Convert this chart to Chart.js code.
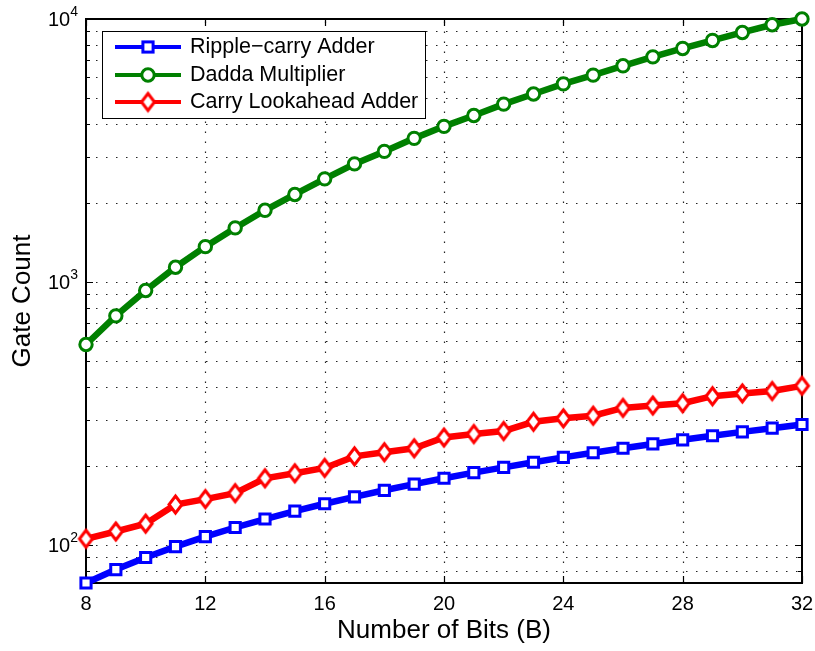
<!DOCTYPE html>
<html>
<head>
<meta charset="utf-8">
<title>Gate Count vs Number of Bits</title>
<script src="https://cdn.jsdelivr.net/npm/chart.js@4.4.1/dist/chart.umd.min.js"></script>
<style>
  html, body { margin: 0; padding: 0; background: #fff; }
  #chart { display: block; }
</style>
</head>
<body>
<canvas id="chart" width="815" height="651"></canvas>
<script>
// Word length in bits
const bits = [8, 9, 10, 11, 12, 13, 14, 15, 16, 17, 18, 19, 20, 21, 22, 23, 24, 25, 26, 27, 28, 29, 30, 31, 32];

// Gate counts per design
const rippleCarry = [72, 81, 90, 99, 108, 117, 126, 135, 144, 153, 162, 171, 180, 189, 198, 207, 216, 225, 234, 243, 252, 261, 270, 279, 288];
const dadda = [580, 745, 930, 1140, 1365, 1608, 1876, 2155, 2470, 2815, 3140, 3520, 3910, 4300, 4750, 5190, 5670, 6120, 6640, 7180, 7730, 8290, 8890, 9510, 10000];
const carryLookahead = [106, 113, 121, 143, 150, 158, 180, 188, 197, 218, 226, 234, 257, 265, 272, 295, 304, 311, 333, 340, 347, 369, 378, 386, 404];

const seriesNames = ['Ripple\u2212carry Adder', 'Dadda Multiplier', 'Carry Lookahead Adder'];
const seriesColors = ['#0000ff', '#008000', '#ff0000'];

// Log axis: dotted grid at every integer multiple, labels at the decades
const yGridValues = [80, 90, 100, 200, 300, 400, 500, 600, 700, 800, 900, 1000, 2000, 3000, 4000, 5000, 6000, 7000, 8000, 9000, 10000];
const yDecades = [100, 1000, 10000];
const yMin = 72, yMax = 10000;

const FONT = "'Liberation Sans', Arial, Helvetica, sans-serif";
Chart.defaults.font.family = FONT;
Chart.defaults.color = '#000';

function makeDiamond(w, h, color, lw) {
  const c = document.createElement('canvas');
  c.width = w + lw * 2 + 2;
  c.height = h + lw * 2 + 2;
  const g = c.getContext('2d');
  const cx = c.width / 2, cy = c.height / 2;
  g.beginPath();
  g.moveTo(cx, cy - h / 2);
  g.lineTo(cx + w / 2, cy);
  g.lineTo(cx, cy + h / 2);
  g.lineTo(cx - w / 2, cy);
  g.closePath();
  g.fillStyle = '#fff';
  g.fill();
  g.lineWidth = lw;
  g.strokeStyle = color;
  g.stroke();
  return c;
}

const diamond = makeDiamond(13, 17, seriesColors[2], 3);

function toPoints(values) {
  return bits.map((b, i) => ({ x: b, y: values[i] }));
}

function lineSet(label, values, color, style, radius) {
  return {
    label: label,
    data: toPoints(values),
    borderColor: color,
    backgroundColor: '#fff',
    borderWidth: 6.5,
    pointStyle: style,
    pointRadius: radius,
    pointBorderWidth: 3,
    pointBackgroundColor: '#fff',
    pointBorderColor: color,
    tension: 0,
    clip: false
  };
}

// Dotted grid, box and inward tick marks (MATLAB style)
const axesPlugin = {
  id: 'matlabAxes',
  beforeDatasetsDraw(chart) {
    const ctx = chart.ctx;
    const xs = chart.scales.x, ys = chart.scales.y;
    const a = chart.chartArea;
    ctx.save();
    ctx.strokeStyle = '#222';
    ctx.lineWidth = 1.2;
    ctx.setLineDash([1.5, 8.5]);
    xs.ticks.forEach(t => {
      const px = Math.round(xs.getPixelForValue(t.value)) + 0.5;
      if (px <= a.left + 2 || px >= a.right - 2) return;
      ctx.beginPath();
      ctx.moveTo(px, a.bottom);
      ctx.lineTo(px, a.top);
      ctx.stroke();
    });
    yGridValues.forEach(v => {
      if (v <= yMin || v >= yMax) return;
      const py = Math.round(ys.getPixelForValue(v)) + 0.5;
      ctx.beginPath();
      ctx.moveTo(a.left, py);
      ctx.lineTo(a.right, py);
      ctx.stroke();
    });
    ctx.setLineDash([]);

    // box
    ctx.strokeStyle = '#000';
    ctx.lineWidth = 2;
    ctx.strokeRect(a.left, a.top, a.right - a.left, a.bottom - a.top);

    // x ticks, bottom and top
    ctx.lineWidth = 1.2;
    xs.ticks.forEach(t => {
      const px = Math.round(xs.getPixelForValue(t.value)) + 0.5;
      ctx.beginPath();
      ctx.moveTo(px, a.bottom);
      ctx.lineTo(px, a.bottom - 7);
      ctx.moveTo(px, a.top);
      ctx.lineTo(px, a.top + 7);
      ctx.stroke();
    });
    // y ticks, left and right
    yGridValues.forEach(v => {
      if (v < yMin || v > yMax) return;
      const py = Math.round(ys.getPixelForValue(v)) + 0.5;
      const len = yDecades.includes(v) ? 7 : 4;
      ctx.beginPath();
      ctx.moveTo(a.left, py);
      ctx.lineTo(a.left + len, py);
      ctx.moveTo(a.right, py);
      ctx.lineTo(a.right - len, py);
      ctx.stroke();
    });

    // decade labels as 10^n
    ctx.fillStyle = '#000';
    yDecades.forEach(v => {
      const py = ys.getPixelForValue(v);
      const exp = String(Math.round(Math.log10(v)));
      ctx.font = '14px ' + FONT;
      const ew = ctx.measureText(exp).width;
      const right = a.left - 8;
      ctx.textBaseline = 'middle';
      ctx.textAlign = 'left';
      ctx.fillText(exp, right - ew, py - 7);
      ctx.font = '20px ' + FONT;
      ctx.textAlign = 'right';
      ctx.fillText('10', right - ew, py + 1.5);
    });
    ctx.restore();
  },
  afterDraw(chart) {
    // legend box
    const ctx = chart.ctx;
    const box = { left: 102, top: 31, right: 425, bottom: 118 };
    const rows = [47, 75, 102];
    ctx.save();
    ctx.fillStyle = '#fff';
    ctx.fillRect(box.left, box.top, box.right - box.left, box.bottom - box.top);
    ctx.strokeStyle = '#000';
    ctx.lineWidth = 1;
    ctx.strokeRect(box.left + 0.5, box.top + 0.5, box.right - box.left, box.bottom - box.top);
    chart.data.datasets.forEach((ds, i) => {
      const y = rows[i];
      ctx.strokeStyle = ds.borderColor;
      ctx.lineWidth = 4;
      ctx.beginPath();
      ctx.moveTo(115, y);
      ctx.lineTo(181, y);
      ctx.stroke();
      const cx = 148;
      ctx.lineWidth = 3;
      ctx.fillStyle = '#fff';
      if (ds.pointStyle === 'rect') {
        const s = ds.pointRadius * Math.SQRT1_2;
        ctx.fillRect(cx - s, y - s, 2 * s, 2 * s);
        ctx.strokeRect(cx - s, y - s, 2 * s, 2 * s);
      } else if (ds.pointStyle === 'circle') {
        ctx.beginPath();
        ctx.arc(cx, y, ds.pointRadius, 0, Math.PI * 2);
        ctx.fill();
        ctx.stroke();
      } else {
        const img = ds.pointStyle;
        ctx.drawImage(img, cx - img.width / 2, y - img.height / 2);
      }
      ctx.fillStyle = '#000';
      ctx.font = '21.5px ' + FONT;
      ctx.textAlign = 'left';
      ctx.textBaseline = 'middle';
      ctx.fillText(ds.label, 190, y);
    });
    ctx.restore();
  }
};

new Chart(document.getElementById('chart'), {
  type: 'line',
  data: {
    datasets: [
      lineSet(seriesNames[0], rippleCarry, seriesColors[0], 'rect', 7.2),
      lineSet(seriesNames[1], dadda, seriesColors[1], 'circle', 6.2),
      lineSet(seriesNames[2], carryLookahead, seriesColors[2], diamond, 8)
    ]
  },
  options: {
    responsive: false,
    animation: false,
    layout: { padding: { top: 19, right: 13, bottom: 0, left: 0 } },
    plugins: {
      legend: { display: false },
      tooltip: { enabled: false }
    },
    scales: {
      x: {
        type: 'linear',
        min: 8,
        max: 32,
        grid: { display: false, drawTicks: false },
        border: { display: false },
        ticks: {
          stepSize: 4,
          padding: 9,
          font: { size: 20 },
          color: '#000'
        },
        title: {
          display: true,
          text: 'Number of Bits (B)',
          font: { size: 26 },
          color: '#000',
          padding: { top: 0, bottom: 5 }
        },
        afterFit: s => {
          s.height = 68;
          s.paddingLeft = 0;
          s.paddingRight = 0;
        }
      },
      y: {
        type: 'logarithmic',
        min: yMin,
        max: yMax,
        grid: { display: false, drawTicks: false },
        border: { display: false },
        ticks: { display: false },
        title: {
          display: true,
          text: 'Gate Count',
          font: { size: 26 },
          color: '#000',
          padding: { top: 7, bottom: 0 }
        },
        afterFit: s => { s.width = 86; }
      }
    }
  },
  plugins: [axesPlugin]
});
</script>
</body>
</html>
